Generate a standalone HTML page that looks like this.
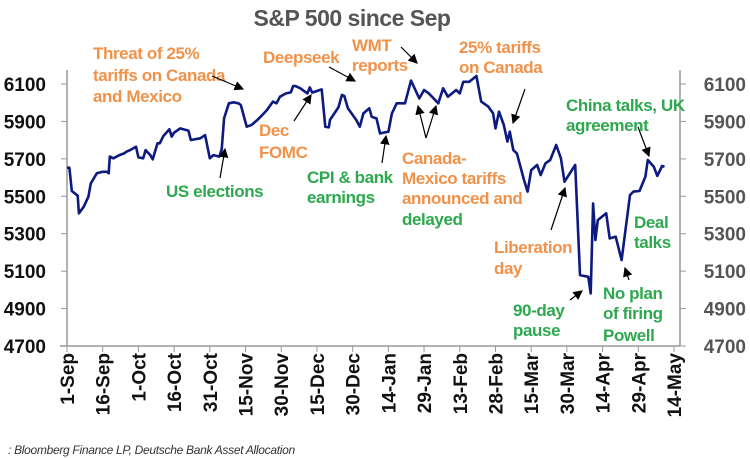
<!DOCTYPE html>
<html><head><meta charset="utf-8">
<style>
html,body{margin:0;padding:0;background:#fff;}
svg{display:block;font-family:"Liberation Sans",Arial,sans-serif;}
.o{fill:#F0924A;font-weight:bold;font-size:17px;letter-spacing:-0.4px;}
.g{fill:#2EA84F;font-weight:bold;font-size:17px;letter-spacing:-0.4px;}
</style></head>
<body>
<svg id="chart" width="750" height="458" viewBox="0 0 750 458">
<defs><marker id="ah" markerWidth="8" markerHeight="8" refX="7" refY="4" orient="auto"><path d="M0,0 L8,4 L0,8 z" fill="#000"/></marker></defs>
<text x="352" y="26" text-anchor="middle" font-size="23" font-weight="bold" fill="#555" letter-spacing="-0.5">S&amp;P 500 since Sep</text>
<g id="axes"></g>
<path id="line" fill="none" stroke="#0D1A7F" stroke-width="2.6" stroke-linejoin="round"/>
<g id="ann">
<text class="o"><tspan x="93" y="59">Threat of 25%</tspan><tspan x="93" y="81">tariffs on Canada</tspan><tspan x="93" y="102">and Mexico</tspan></text>
<text class="o" x="263" y="63">Deepseek</text>
<text class="o"><tspan x="352" y="51">WMT</tspan><tspan x="352" y="71">reports</tspan></text>
<text class="o"><tspan x="459" y="53">25% tariffs</tspan><tspan x="459" y="73">on Canada</tspan></text>
<text class="g" x="166" y="197">US elections</text>
<text class="o"><tspan x="259" y="136">Dec</tspan><tspan x="259" y="158">FOMC</tspan></text>
<text class="g"><tspan x="307" y="183">CPI &amp; bank</tspan><tspan x="307" y="203">earnings</tspan></text>
<text class="o"><tspan x="402" y="164">Canada-</tspan><tspan x="402" y="184">Mexico tariffs</tspan><tspan x="402" y="204">announced and</tspan></text>
<text class="g" x="402" y="225">delayed</text>
<text class="o"><tspan x="494" y="253">Liberation</tspan><tspan x="494" y="274">day</tspan></text>
<text class="g"><tspan x="513" y="316">90-day</tspan><tspan x="513" y="336">pause</tspan></text>
<text class="g"><tspan x="603" y="299">No plan</tspan><tspan x="603" y="319">of firing</tspan><tspan x="603" y="341">Powell</tspan></text>
<text class="g"><tspan x="634" y="228">Deal</tspan><tspan x="634" y="248">talks</tspan></text>
<text class="g"><tspan x="566" y="111">China talks, UK</tspan><tspan x="566" y="131">agreement</tspan></text>
<g stroke="#000" stroke-width="1.2" marker-end="url(#ah)">
<line x1="212" y1="76" x2="243" y2="89"/>
<line x1="329" y1="67" x2="355" y2="81"/>
<line x1="401" y1="47" x2="417" y2="63"/>
<line x1="525" y1="89" x2="513" y2="123"/>
<line x1="220" y1="178" x2="225" y2="149"/>
<line x1="294" y1="121" x2="311" y2="95"/>
<line x1="382" y1="163" x2="386" y2="136"/>
<line x1="426" y1="138" x2="418" y2="106"/>
<line x1="426" y1="138" x2="436" y2="106"/>
<line x1="551" y1="230" x2="565" y2="188"/>
<line x1="570" y1="300" x2="582" y2="291"/>
<line x1="629" y1="280" x2="625" y2="268"/>
<line x1="638" y1="127" x2="649" y2="156"/>
</g>
</g>
<text x="8" y="454" font-size="12" font-style="italic" fill="#333" letter-spacing="-0.3">      : Bloomberg Finance LP, Deutsche Bank Asset Allocation</text>
</svg>
<script>
const days=[0,1,2,4.5,5,7,9,10,12.5,15,17,17.5,18,19.5,22,24,25,26.5,29,30,32,33,35,36,38,39,40.5,43,44,45,47.5,51,52,56,58,60,61.5,64,65,66,68,70,72,73,75.5,77.5,80,82,84,85.5,86.5,88,89.5,92,94,95,96,98,101,102,103,107,108.5,110,110.5,114,115.5,116.5,118,121.5,123,124.5,127,128,130,131.5,135,136.5,138.5,142,144.5,148,150,152,156,158,160,163.5,165,166.5,169,172,174,177,179,180,181.5,183.5,185,186,187.5,189,192,193.5,195,197.5,199,201,203,205.5,207.5,209,213.5,215.5,219,220,221,222,223,226.5,228,230.5,233,236.5,238,240.5,243,244,246.5,248,250,251];
const values=[5653,5653,5528,5503,5409,5444,5498,5569,5623,5631,5631,5623,5712,5703,5720,5729,5738,5747,5765,5708,5703,5747,5720,5697,5783,5783,5822,5858,5819,5840,5863,5851,5801,5810,5827,5703,5720,5712,5751,5917,5997,6002,5997,5988,5872,5881,5908,5934,5961,5988,6006,5997,6032,6050,6055,6089,6089,6077,6050,6082,6054,6071,5872,5868,5908,5975,6041,6036,5970,5908,5872,5943,5970,5925,5916,5836,5845,5943,5997,5997,6118,6023,6068,6050,5997,6077,6032,6068,6050,6112,6112,6143,6006,5979,5943,5863,5952,5881,5792,5845,5747,5729,5587,5525,5640,5667,5614,5676,5694,5774,5703,5578,5667,5079,5070,4981,5462,5266,5373,5409,5275,5284,5159,5507,5525,5528,5605,5694,5658,5609,5662,5658];
const xLabels=["1-Sep","16-Sep","1-Oct","16-Oct","31-Oct","15-Nov","30-Nov","15-Dec","30-Dec","14-Jan","29-Jan","13-Feb","28-Feb","15-Mar","30-Mar","14-Apr","29-Apr","14-May"];
const yTicks=[4700,4900,5100,5300,5500,5700,5900,6100];
const NS="http://www.w3.org/2000/svg";
const X0=67,X1=674,Y0=346,Y1=84;
function xs(d){return X0+d*(X1-X0)/255;}
function ys(v){return Y0-(v-4700)*(Y0-Y1)/1400;}
function mk(tag,attrs,parent){const e=document.createElementNS(NS,tag);for(const k in attrs)e.setAttribute(k,attrs[k]);parent.appendChild(e);return e;}
const ax=document.getElementById('axes');
let l=mk('line',{x1:X0,y1:70,x2:X0,y2:Y0,stroke:'#999','stroke-width':1.5},ax);


l=mk('line',{x1:680,y1:70,x2:680,y2:Y0,stroke:'#999','stroke-width':1.5},ax);


l=mk('line',{x1:60,y1:Y0,x2:680,y2:Y0,stroke:'#999','stroke-width':1.5},ax);


yTicks.forEach(v=>{
  const y=ys(v);
  mk('line',{x1:X0-6,y1:y,x2:X0,y2:y,stroke:'#999','stroke-width':1},ax);
  mk('line',{x1:680,y1:y,x2:686,y2:y,stroke:'#999','stroke-width':1},ax);
  let t=mk('text',{x:46,y:y+7,'text-anchor':'end','font-size':19,'font-weight':'bold',fill:'#111'},ax);
  t.textContent=v;
  
  
  t=mk('text',{x:746,y:y+7,'text-anchor':'end','font-size':19,'font-weight':'bold',fill:'#555'},ax);
  t.textContent=v;
  
  
});
xLabels.forEach((s,i)=>{
  const x=X0+i*(X1-X0)/17;
  mk('line',{x1:x,y1:Y0,x2:x,y2:Y0+6,stroke:'#999','stroke-width':1},ax);
  const t=mk('text',{x:0,y:0,'text-anchor':'end','font-size':19,'font-weight':'bold',fill:'#111',transform:`translate(${x+7},353) rotate(-90)`},ax);
  t.textContent=s;
  
  
});
document.getElementById('line').setAttribute('d',days.map((d,i)=>(i?'L':'M')+xs(d).toFixed(1)+','+ys(values[i]).toFixed(1)).join(' '));
</script>
</body></html>
